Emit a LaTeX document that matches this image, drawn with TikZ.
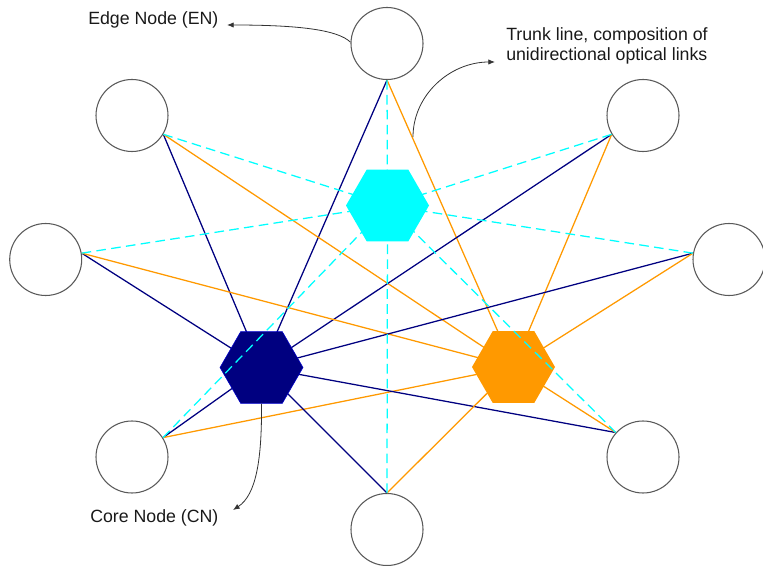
\documentclass[tikz,border=0pt]{standalone}
\usepackage{fontspec}
\setmainfont{Liberation Sans}
\usetikzlibrary{shapes.geometric,arrows.meta}
\definecolor{navyc}{HTML}{000080}
\definecolor{orangec}{HTML}{FF9900}
\definecolor{cyanc}{HTML}{00FFFF}
\begin{document}
\begin{tikzpicture}[x=0.75pt,y=-0.75pt,
  en/.style={circle,draw=black!65,line width=0.8pt,minimum size=54pt,inner sep=0pt},
  cn/.style={regular polygon,regular polygon sides=6,minimum size=62.25pt,inner sep=0pt},
  nline/.style={draw=navyc,line width=0.95pt},
  oline/.style={draw=orangec,line width=0.95pt},
  cline/.style={draw=cyanc,line width=0.95pt,dash pattern=on 7.2pt off 4pt},
  note/.style={draw=black!80,line width=0.6pt,-{Latex[length=5pt,width=4pt]}},
  lab/.style={font=\fontsize{13.3}{15}\selectfont,inner sep=0pt,align=left,text=black!90}]
\useasboundingbox (0,0) rectangle (763,566);
% edge nodes
\node[en] (t)  at (387,43.5) {};
\node[en] (ul) at (132,115.5) {};
\node[en] (ur) at (643,115.5) {};
\node[en] (l)  at (45.7,259.5) {};
\node[en] (r)  at (729,259.5) {};
\node[en] (ll) at (132,457) {};
\node[en] (lr) at (643,457) {};
\node[en] (b)  at (387,529.5) {};
% ports
\coordinate (pt)  at (t.-90);
\coordinate (pul) at (ul.-31);
\coordinate (pur) at (ur.-149);
\coordinate (pl)  at (l.10);
\coordinate (pr)  at (r.170);
\coordinate (pll) at (ll.32);
\coordinate (plr) at (lr.138);
\coordinate (pb)  at (b.90);
% core node positions
\coordinate (nv) at (261.5,367.5);
\coordinate (og) at (513.5,367);
\coordinate (cy) at (387.5,205.5);
% navy and orange links
\foreach \p in {pt,pul,pur,pl,pr,pll,plr,pb}{
  \draw[nline] (\p) -- (nv);
  \draw[oline] (\p) -- (og);
}
\node[cn,fill=navyc,draw=blue!60!navyc,line width=0.4pt] (cnN) at (nv) {};
\node[cn,fill=orangec] (cnO) at (og) {};
% cyan links
\foreach \p in {pt,pul,pur,pl,pr,pll,plr,pb}{
  \draw[cline] (\p) -- (cy);
}
\node[cn,fill=cyanc] (cnC) at (cy) {};
% annotations
\node[lab,anchor=west] (lEN) at (88,19.5) {Edge Node (EN)};
\node[lab,anchor=north west] (lTR) at (506,27) {Trunk line, composition of\\unidirectional optical links};
\node[lab,anchor=west] (lCN) at (90,518) {Core Node (CN)};
\coordinate (trs) at (413,137);
\coordinate (enTip) at (227,25);
\coordinate (trTip) at (495,62);
\coordinate (cnTip) at (233,510);
\draw[note] (t.178) .. controls (338,30) and (300,25) .. (enTip);
\draw[note] (trs) .. controls (413,95) and (450,62) .. (trTip);
\draw[note] (cnN.south) .. controls (262,460) and (256,495) .. (cnTip);
\end{tikzpicture}
\end{document}
